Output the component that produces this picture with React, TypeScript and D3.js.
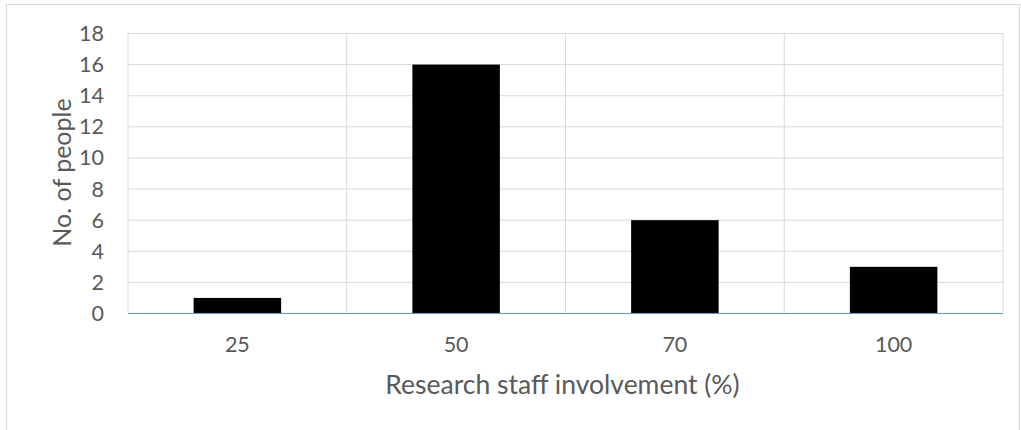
import React from "react";
import * as d3 from "d3";

const categories: string[] = ["25", "50", "70", "100"];
const values: number[] = [1, 16, 6, 3];
const yTicks: number[] = [0, 2, 4, 6, 8, 10, 12, 14, 16, 18];
const xTitle = "Research staff involvement (%)";
const yTitle = "No. of people";

const W = 1021;
const H = 430;
const plot = { left: 128, right: 1003, top: 33.5, bottom: 313.5 };
const FONT = "Lato, 'Open Sans', sans-serif";
const TEXT = "#595959";

export default function App() {
  const x = d3
    .scaleBand<string>()
    .domain(categories)
    .range([plot.left, plot.right])
    .paddingInner(0)
    .paddingOuter(0);
  const y = d3.scaleLinear().domain([0, 18]).range([plot.bottom, plot.top]);
  const bw = x.bandwidth() / 2.5;

  return (
    <div style={{ position: "fixed", left: 0, top: 0 }}>
      <svg width={W} height={H} style={{ display: "block", background: "#fff" }}>
        <rect x={6.5} y={4.5} width={1013} height={460} fill="#fff" stroke="#d9d9d9" strokeWidth={1} />
        {yTicks.map((t) => (
          <line key={"g" + t} x1={plot.left} x2={plot.right} y1={y(t)} y2={y(t)} stroke="#d9d9d9" strokeWidth={1} />
        ))}
        {categories.map((c) => (
          <line key={"v" + c} x1={x(c)!} x2={x(c)!} y1={plot.top} y2={plot.bottom} stroke="#d9d9d9" strokeWidth={1} />
        ))}
        <line x1={plot.right} x2={plot.right} y1={plot.top} y2={plot.bottom} stroke="#d9d9d9" strokeWidth={1} />
        {categories.map((c, i) => (
          <rect
            key={"b" + c}
            x={x(c)! + x.bandwidth() / 2 - bw / 2}
            y={y(values[i])}
            width={bw}
            height={y(0) - y(values[i])}
            fill="#000"
          />
        ))}
        <line x1={plot.left} x2={plot.right} y1={y(0)} y2={y(0)} stroke="#5b9bd5" strokeWidth={1.2} />
        {yTicks.map((t) => (
          <text key={"t" + t} x={104} y={y(t)} dy="0.35em" textAnchor="end" fontFamily={FONT} fontSize={21.5} fill={TEXT}>
            {t}
          </text>
        ))}
        {categories.map((c) => (
          <text key={"c" + c} x={x(c)! + x.bandwidth() / 2} y={344} dy="0.35em" textAnchor="middle" fontFamily={FONT} fontSize={21.5} fill={TEXT}>
            {c}
          </text>
        ))}
        <text x={(plot.left + plot.right) / 2 - 3} y={385} dy="0.35em" textAnchor="middle" fontFamily={FONT} fontSize={26.5} fill={TEXT}>
          {xTitle}
        </text>
        <text
          transform={`translate(62,${(plot.top + plot.bottom) / 2 - 1}) rotate(-90)`}
          dy="0.35em"
          textAnchor="middle"
          fontFamily={FONT}
          fontSize={25}
          fill={TEXT}
        >
          {yTitle}
        </text>
      </svg>
    </div>
  );
}
